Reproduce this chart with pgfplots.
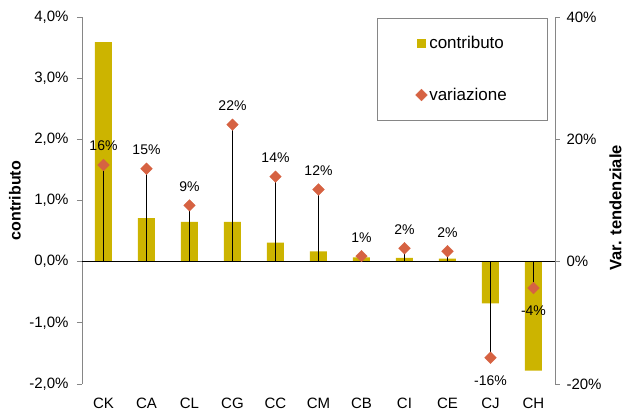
\documentclass[border=0pt]{standalone}
\usepackage{pgfplots}
\pgfplotsset{compat=1.18}
\usepackage{fontspec}
\setmainfont{Liberation Sans}
\definecolor{barc}{RGB}{204,180,0}
\definecolor{dia}{RGB}{214,98,66}
\definecolor{axgray}{RGB}{134,134,134}
\begin{document}
\begin{tikzpicture}
\useasboundingbox (-82pt,-28pt) rectangle (543pt,384pt);
\begin{axis}[
  at={(0pt,0pt)}, anchor=south west,
  scale only axis, width=473pt, height=367pt,
  xmin=-0.5, xmax=10.5, ymin=-2, ymax=4,
  axis y line*=left, axis x line*=bottom,
  x axis line style={draw=none},
  y axis line style={axgray, line width=0.8pt},
  xtick={0,...,10},
  xticklabels={CK,CA,CL,CG,CC,CM,CB,CI,CE,CJ,CH},
  xtick style={draw=none},
  xticklabel style={yshift=-5.5pt},
  ytick={-2,-1,0,1,2,3,4},
  yticklabels={{-2,0\%},{-1,0\%},{0,0\%},{1,0\%},{2,0\%},{3,0\%},{4,0\%}},
  yticklabel style={xshift=-5pt},
  ytick style={axgray, line width=0.8pt},
  tick align=outside, major tick length=5pt,
  ticklabel style={font=\fontsize{15}{18}\selectfont},
  ylabel={contributo},
  ylabel style={font=\bfseries\fontsize{16}{19}\selectfont, at={(axis description cs:-0.142,0.5)}, anchor=center},
]
\addplot[ybar, bar width=17pt, fill=barc, draw=none] coordinates {
(0,3.59) (1,0.71) (2,0.65) (3,0.65) (4,0.31) (5,0.17) (6,0.07) (7,0.06) (8,0.05) (9,-0.68) (10,-1.78)};
\draw[black, line width=0.9pt] (axis cs:-0.5,0) -- (axis cs:10.5,0);
\end{axis}
\begin{axis}[
  at={(0pt,0pt)}, anchor=south west,
  scale only axis, width=473pt, height=367pt,
  xmin=-0.5, xmax=10.5, ymin=-20, ymax=40,
  axis y line*=right, axis x line=none,
  y axis line style={axgray, line width=0.8pt},
  ytick={-20,0,20,40}, yticklabels={-20\%,0\%,20\%,40\%},
  yticklabel style={xshift=3pt},
  ytick style={axgray, line width=0.8pt},
  tick align=outside, major tick length=5pt,
  ticklabel style={font=\fontsize{15}{18}\selectfont},
  ylabel={Var. tendenziale},
  ylabel style={font=\bfseries\fontsize{16.5}{19}\selectfont, at={(axis description cs:1.128,0.48)}, anchor=center},
  legend style={at={(0.983,0.997)}, anchor=north east, draw=axgray, fill=white,
    inner xsep=38pt, inner ysep=16pt, row sep=34pt, font=\fontsize{17}{20}\selectfont},
  legend cell align=left,
  legend image code/.code={\draw[mark repeat=2,mark phase=2,#1] plot coordinates {(0cm,0cm)(0.15cm,0cm)(0.3cm,0cm)};},
]
\addlegendimage{only marks, mark=square*, mark size=4pt, mark options={fill=barc, draw=barc}}
\addlegendentry{contributo}
\addplot[ycomb, black, line width=0.8pt, forget plot] coordinates {
(0,15.8) (1,15.2) (2,9.2) (3,22.4) (4,13.9) (5,11.8) (6,0.9) (7,2.2) (8,1.7) (9,-15.7) (10,-4.3)};
\addplot[only marks, mark=square*, mark size=4.1pt, mark options={rotate=45, fill=dia, draw=dia},
  nodes near coords, point meta=explicit symbolic,
  nodes near coords style={font=\fontsize{14}{16}\selectfont, anchor=south, yshift=10.5pt}]
  table[meta=lab] {
x y lab
0 15.8 16\%
1 15.2 15\%
2 9.2 9\%
3 22.4 22\%
4 13.9 14\%
5 11.8 12\%
6 0.9 1\%
7 2.2 2\%
8 1.7 2\%
};
\addlegendentry{variazione}
\addplot[only marks, mark=square*, mark size=4.1pt, mark options={rotate=45, fill=dia, draw=dia},
  nodes near coords, point meta=explicit symbolic, forget plot,
  nodes near coords style={font=\fontsize{14}{16}\selectfont, anchor=north, yshift=-14pt}]
  table[meta=lab] {
x y lab
9 -15.7 -16\%
10 -4.3 -4\%
};
\end{axis}
\end{tikzpicture}
\end{document}
